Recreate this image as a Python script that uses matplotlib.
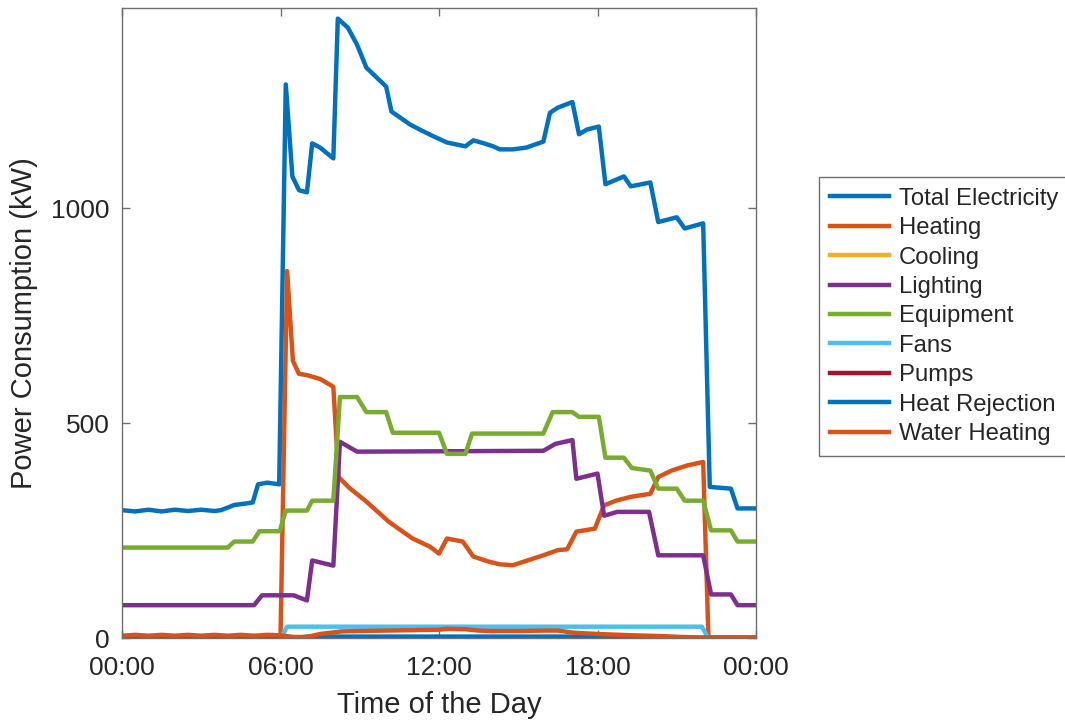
import matplotlib
matplotlib.use("Agg")
import matplotlib.pyplot as plt

plt.rcParams['font.family'] = ['Liberation Sans', 'DejaVu Sans']

# time of day in hours, values in kW
t_total = [0, 0.5, 1.0, 1.5, 2.0, 2.5, 3.0, 3.5, 3.75, 4.25, 4.75, 4.95, 5.15, 5.5, 5.95,
           6.2, 6.45, 6.7, 7.0, 7.2, 7.5, 8.0, 8.17, 8.55, 8.9, 9.25, 10.0, 10.2, 10.9,
           11.3, 11.8, 12.3, 13.0, 13.3, 13.7, 14.05, 14.3, 14.8, 15.3, 15.95, 16.2, 16.5,
           17.05, 17.3, 17.6, 18.05, 18.3, 19.0, 19.26, 20.0, 20.3, 21.0, 21.3, 22.0,
           22.25, 23.05, 23.3, 24]
total = [298, 295, 299, 295, 299, 296, 299, 296, 298, 310, 314, 316, 358, 362, 358,
         1288, 1074, 1042, 1037, 1151, 1141, 1116, 1441, 1420, 1380, 1327, 1283, 1225, 1195,
         1182, 1167, 1153, 1144, 1158, 1151, 1144, 1137, 1137, 1141, 1155, 1222, 1234,
         1247, 1172, 1183, 1190, 1056, 1074, 1051, 1060, 968, 979, 953, 965,
         352, 348, 302, 302]

t_heat = [0, 6.0, 6.25, 6.47, 6.7, 7.0, 7.5, 8.0, 8.2, 8.6, 9.25, 10.1, 11.0, 11.66, 12.0,
          12.3, 12.9, 13.3, 13.9, 14.3, 14.8, 15.3, 15.95, 16.5, 16.85, 17.2, 17.9, 18.25,
          18.7, 19.26, 20.0, 20.3, 20.8, 21.4, 22.0, 22.2, 24]
heating = [2, 2, 854, 645, 615, 612, 603, 585, 375, 350, 318, 271, 232, 213, 197,
           232, 225, 190, 178, 172, 170, 180, 193, 205, 207, 248, 255, 309,
           320, 329, 336, 375, 390, 402, 410, 2, 2]

t_cool = [0, 24]
cooling = [0, 0]

t_light = [0, 5.0, 5.3, 6.5, 7.0, 7.2, 8.0, 8.25, 8.9, 15.95, 16.4, 17.05, 17.2, 18.0,
           18.25, 18.75, 19.95, 20.3, 22.0, 22.3, 23.05, 23.3, 24]
lighting = [77, 77, 100, 100, 88, 181, 169, 457, 434, 436, 452, 461, 371, 383,
            285, 294, 294, 193, 193, 102, 102, 77, 77]

t_equip = [0, 4.0, 4.25, 4.95, 5.2, 5.97, 6.2, 7.0, 7.2, 8.0, 8.25, 8.9, 9.25, 10.0,
           10.25, 12.0, 12.3, 13.0, 13.25, 15.95, 16.3, 17.05, 17.3, 18.05, 18.3, 19.0,
           19.3, 20.0, 20.3, 21.0, 21.3, 22.0, 22.3, 23.05, 23.3, 24]
equipment = [211, 211, 225, 225, 249, 249, 297, 297, 320, 320, 561, 561, 526, 526,
             478, 478, 429, 429, 476, 476, 526, 526, 515, 515, 420, 420,
             396, 390, 348, 348, 320, 320, 251, 251, 225, 225]

t_fans = [0, 6.0, 6.25, 21.95, 22.2, 24]
fans = [0, 0, 27, 27, 0, 0]

t_pumps = [0, 24]
pumps = [1, 1]

t_rej = [0, 6.5, 7.0, 20.0, 21.0, 24]
heat_rejection = [0, 0, 4, 4, 0, 0]

t_water = [0, 0.5, 1, 1.5, 2, 2.5, 3, 3.5, 4, 4.5, 5, 5.5, 6.0, 6.5, 7.0, 7.5, 8.3, 9,
           10, 11, 12, 12.3, 13, 13.5, 14, 15, 16, 16.5, 17.1, 18, 19.3, 20.5, 21.2, 22, 24]
water_heating = [6, 8, 6, 8, 6, 8, 6, 8, 6, 8, 6, 8, 7, 3, 3, 10, 16, 17,
                 18, 19, 20, 22, 21, 18, 17, 17, 18, 18, 13, 10, 7, 5, 3, 2, 2]

names = ['Total Electricity', 'Heating', 'Cooling', 'Lighting', 'Equipment', 'Fans',
         'Pumps', 'Heat Rejection', 'Water Heating']
colors = ['#0072BD', '#D95319', '#EDB120', '#7E2F8E', '#77AC30', '#4DBEEE',
          '#A2142F', '#0072BD', '#D95319']
series = [(t_total, total), (t_heat, heating), (t_cool, cooling), (t_light, lighting),
          (t_equip, equipment), (t_fans, fans), (t_pumps, pumps), (t_rej, heat_rejection),
          (t_water, water_heating)]

fig = plt.figure(figsize=(10.65, 7.21), dpi=100)
ax = fig.add_axes([122/1065, 1 - 638.3/721, 634/1065, 630/721])

for (t, v), name, c in zip(series, names, colors):
    ax.plot(t, v, color=c, lw=3.2, label=name)

ax.set_xlim(0, 24)
ax.set_ylim(0, 1465)
ax.set_xticks([0, 6, 12, 18, 24])
ax.set_xticklabels(['00:00', '06:00', '12:00', '18:00', '00:00'])
ax.set_yticks([0, 500, 1000])

txt = '#262626'
for s in ax.spines.values():
    s.set_color('#707070')
    s.set_linewidth(1.0)
ax.tick_params(direction='in', length=6, width=1, color='#707070', labelcolor=txt,
               labelsize=19, top=True, right=True)
ax.tick_params(axis='x', pad=13)
ax.tick_params(axis='y', pad=9)

ax.set_xlabel('Time of the Day', fontsize=21, color=txt, labelpad=8)
ax.set_ylabel('Power Consumption (kW)', fontsize=21, color=txt, labelpad=9)

leg = fig.legend(loc='upper left', bbox_to_anchor=(819/1065, 1 - 177/721),
                 fontsize=17.2, frameon=True, fancybox=False, framealpha=1,
                 edgecolor='#707070', handlelength=2.5, handletextpad=0.4,
                 labelspacing=0.31, borderpad=0.45, borderaxespad=0)
leg.get_frame().set_linewidth(1.0)
for tx in leg.get_texts():
    tx.set_color(txt)

fig.savefig('out.png', dpi=100)
